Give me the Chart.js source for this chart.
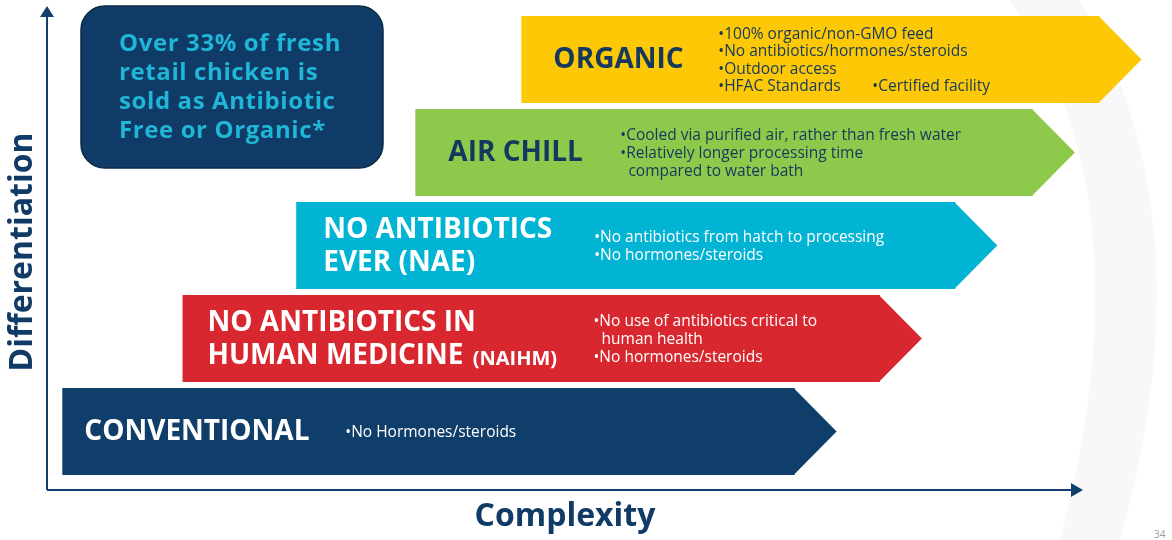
<!DOCTYPE html>
<html>
<head>
<meta charset="utf-8">
<script src="https://cdn.jsdelivr.net/npm/chart.js@4"></script>
<style>
  body { margin: 0; background: #ffffff; }
  #wrap { width: 1172px; height: 540px; }
</style>
</head>
<body>
<div id="wrap"><canvas id="canvas" width="1172" height="540"></canvas></div>
<script>
// data: one arrow per tier, from bottom-left to top-right
const categories = ['ORGANIC', 'AIR CHILL', 'NO ANTIBIOTICS EVER (NAE)', 'NO ANTIBIOTICS IN HUMAN MEDICINE (NAIHM)', 'CONVENTIONAL'];
const startValues = [43.4, 33.7, 22.8, 12.4, 1.4];
const endValues = [96.3, 90.2, 83.1, 76.2, 68.4];
const titleLines = [['ORGANIC'], ['AIR CHILL'], ['NO ANTIBIOTICS', 'EVER (NAE)'], ['NO ANTIBIOTICS IN', 'HUMAN MEDICINE'], ['CONVENTIONAL']];
const titleSuffix = ['', '', '', ' (NAIHM)', ''];
const bullets = [
  ['•100% organic/non-GMO feed', '•No antibiotics/hormones/steroids', '•Outdoor access', ['•HFAC Standards', '•Certified facility']],
  ['•Cooled via purified air, rather than fresh water', '•Relatively longer processing time', '  compared to water bath'],
  ['•No antibiotics from hatch to processing', '•No hormones/steroids'],
  ['•No use of antibiotics critical to', '  human health', '•No hormones/steroids'],
  ['•No Hormones/steroids']
];
const calloutLines = ['Over 33% of fresh', 'retail chicken is', 'sold as Antibiotic', 'Free or Organic*'];
const xTitle = 'Complexity';
const yTitle = 'Differentiation';

// styles
const barColors = ['#fdc805', '#8dc94b', '#02b4d3', '#d9272f', '#0f3e6a'];
const textColors = ['#15385e', '#15385e', '#ffffff', '#ffffff', '#ffffff'];
const titleOffset = [32, 33, 27, 25, 22];
const bulletOffset = [197, 205, 298, 411, 283];
const navy = '#12406d';
const TIP = 42;

const arrowPlugin = {
  id: 'arrows',
  beforeDatasetsDraw(chart) {
    const ctx = chart.ctx;
    ctx.save();
    // faint background swoosh
    ctx.fillStyle = '#f8f8f9';
    ctx.beginPath();
    ctx.moveTo(1010, 0);
    ctx.quadraticCurveTo(1150, 200, 1060, 540);
    ctx.lineTo(1120, 540);
    ctx.quadraticCurveTo(1210, 220, 1080, 0);
    ctx.closePath();
    ctx.fill();

    // axes arrows
    const ox = 47, oy = 490;
    ctx.strokeStyle = navy;
    ctx.fillStyle = navy;
    ctx.lineWidth = 2;
    ctx.beginPath();
    ctx.moveTo(ox, oy);
    ctx.lineTo(ox, 16);
    ctx.moveTo(ox, oy);
    ctx.lineTo(1072, oy);
    ctx.stroke();
    ctx.beginPath();
    ctx.moveTo(ox, 6); ctx.lineTo(ox - 7, 17); ctx.lineTo(ox + 7, 17); ctx.closePath();
    ctx.fill();
    ctx.beginPath();
    ctx.moveTo(1083, oy); ctx.lineTo(1071, oy - 7); ctx.lineTo(1071, oy + 7); ctx.closePath();
    ctx.fill();

    // axis titles
    ctx.fillStyle = '#0f3b66';
    ctx.font = 'bold 32px "Open Sans"';
    ctx.textAlign = 'center';
    ctx.textBaseline = 'middle';
    ctx.fillText(xTitle, 565, 517);
    ctx.save();
    ctx.translate(23, 252);
    ctx.rotate(-Math.PI / 2);
    ctx.fillText(yTitle, 0, 0);
    ctx.restore();
    ctx.restore();
  },
  afterDatasetsDraw(chart) {
    const ctx = chart.ctx;
    const meta = chart.getDatasetMeta(0);
    ctx.save();
    meta.data.forEach((el, i) => {
      const h = el.height;
      const top = el.y - h / 2;
      const x0 = Math.min(el.x, el.base);
      const x1 = Math.max(el.x, el.base);
      // arrow head
      ctx.fillStyle = barColors[i];
      ctx.beginPath();
      ctx.moveTo(x1 - 1, top);
      ctx.lineTo(x1 + TIP, el.y);
      ctx.lineTo(x1 - 1, top + h);
      ctx.closePath();
      ctx.fill();

      // title
      ctx.fillStyle = textColors[i];
      ctx.textAlign = 'left';
      ctx.textBaseline = 'middle';
      const lines = titleLines[i];
      const lh = 33;
      lines.forEach((t, j) => {
        const y = el.y + 1 + (j - (lines.length - 1) / 2) * lh;
        ctx.font = 'bold 28px "Open Sans"';
        ctx.fillText(t, x0 + titleOffset[i], y);
        if (j === lines.length - 1 && titleSuffix[i]) {
          const w = ctx.measureText(t).width;
          ctx.font = 'bold 20px "Open Sans"';
          ctx.fillText(titleSuffix[i], x0 + titleOffset[i] + w + 4, y + 3);
        }
      });

      // bullets
      ctx.font = '15.5px "Open Sans"';
      const bl = bullets[i];
      const bh = 17.6;
      bl.forEach((t, j) => {
        const y = el.y + 1 + (j - (bl.length - 1) / 2) * bh;
        const bx = x0 + bulletOffset[i];
        if (Array.isArray(t)) {
          ctx.fillText(t[0], bx, y);
          ctx.fillText(t[1], bx + 154, y);
        } else {
          ctx.fillText(t, bx, y);
        }
      });
    });
    ctx.restore();
  },
  afterDraw(chart) {
    const ctx = chart.ctx;
    ctx.save();
    // callout box
    const bx = 81, by = 6, bw = 302, bh = 162, r = 24;
    ctx.fillStyle = '#0f3b66';
    ctx.strokeStyle = '#0a2846';
    ctx.lineWidth = 1.5;
    ctx.beginPath();
    ctx.roundRect(bx, by, bw, bh, r);
    ctx.fill();
    ctx.stroke();
    ctx.fillStyle = '#1fb6d8';
    ctx.font = 'bold 24px "Open Sans"';
    ctx.letterSpacing = '0.6px';
    ctx.textAlign = 'left';
    ctx.textBaseline = 'middle';
    calloutLines.forEach((t, j) => ctx.fillText(t, 119, 44 + j * 29));
    ctx.letterSpacing = '0px';
    // page number
    ctx.fillStyle = '#9a9a9a';
    ctx.font = '10px "Open Sans"';
    ctx.fillText('34', 1154, 535);
    ctx.restore();
  }
};

new Chart(document.getElementById('canvas').getContext('2d'), {
  type: 'bar',
  data: {
    labels: categories,
    datasets: [{
      data: startValues.map((s, i) => [s, endValues[i]]),
      backgroundColor: barColors,
      borderWidth: 0,
      borderSkipped: false,
      barPercentage: 0.935,
      categoryPercentage: 1.0
    }]
  },
  options: {
    indexAxis: 'y',
    responsive: false,
    animation: false,
    layout: { padding: { left: 47, right: 32, top: 13, bottom: 62 } },
    plugins: { legend: { display: false }, tooltip: { enabled: false }, title: { display: false } },
    scales: {
      x: { type: 'linear', min: 0, max: 100, display: false },
      y: { type: 'category', display: false }
    }
  },
  plugins: [arrowPlugin]
});
</script>
</body>
</html>
